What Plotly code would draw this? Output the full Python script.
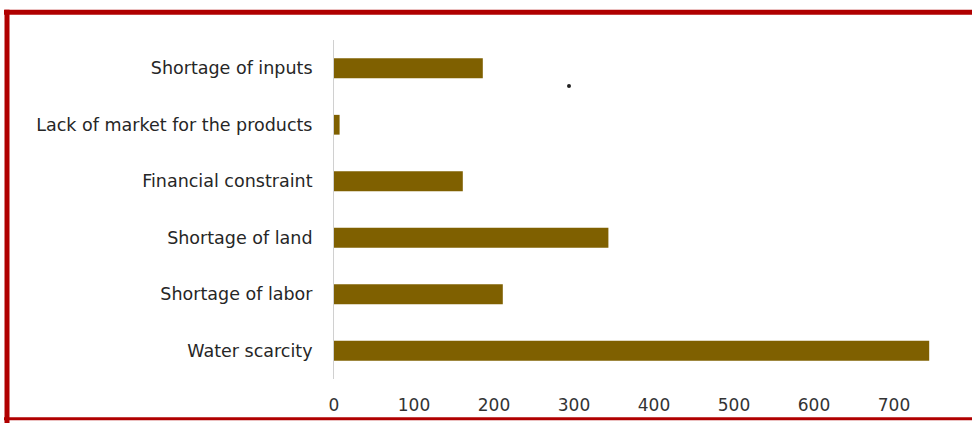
import plotly.graph_objects as go

categories = ["Water scarcity", "Shortage of labor", "Shortage of land",
              "Financial constraint", "Lack of market for the products", "Shortage of inputs"]
values = [744, 211, 343, 161, 7, 186]
tick_vals = [0, 100, 200, 300, 400, 500, 600, 700]

W, H = 972, 423
L, R, T, B = 334, 8, 39.5, 41.5
pw, ph = W - L - R, H - T - B

def px(x):
    return (x - L) / pw

def py(y):
    return (H - B - y) / ph

fig = go.Figure(go.Bar(
    x=values, y=categories, orientation="h",
    marker=dict(color="#7F6000", line=dict(width=0)),
    width=0.35,
))

border = "#B00000"
shapes = [
    dict(type="line", xref="paper", yref="paper", x0=px(4), x1=px(980), y0=py(11.5), y1=py(11.5),
         line=dict(color=border, width=5)),
    dict(type="line", xref="paper", yref="paper", x0=px(7), x1=px(7), y0=py(9), y1=py(426),
         line=dict(color=border, width=5)),
    dict(type="line", xref="paper", yref="paper", x0=px(4), x1=px(980), y0=py(421.5), y1=py(421.5),
         line=dict(color=border, width=3)),
    dict(type="circle", xref="paper", yref="paper", x0=px(567), x1=px(571), y0=py(84), y1=py(88),
         fillcolor="#222222", line=dict(width=0)),
]

fig.update_layout(
    width=W, height=H,
    margin=dict(l=L, r=R, t=T, b=B),
    paper_bgcolor="white", plot_bgcolor="white",
    showlegend=False,
    font=dict(family="DejaVu Sans, sans-serif", size=17.5, color="#262626"),
    xaxis=dict(range=[0, (W - L - R) / 0.8], tickvals=tick_vals, showgrid=False,
               zeroline=False, showline=False, ticks="",
               tickfont=dict(size=17, color="#333333"), ticklabelstandoff=14),
    yaxis=dict(showgrid=False, zeroline=False, showline=True, linecolor="#D0D0D0",
               linewidth=1, ticks="", ticklabelstandoff=17,
               range=[-0.5, 5.5], categoryorder="array", categoryarray=categories),
    shapes=shapes,
)

fig.write_html("out.html")
